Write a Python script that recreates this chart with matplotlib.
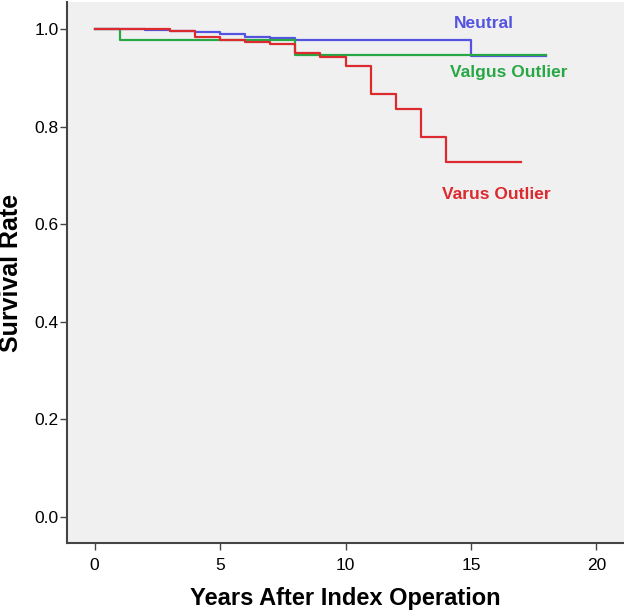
import matplotlib
matplotlib.use("Agg")
import matplotlib.pyplot as plt

plt.rcParams["font.family"] = ["Liberation Sans", "DejaVu Sans"]

# Kaplan-Meier step data (time in years, survival)
neutral_t = [0, 2, 3, 4, 5, 6, 7, 8, 15, 18]
neutral_s = [1.0, 0.998, 0.996, 0.994, 0.989, 0.984, 0.981, 0.977, 0.945, 0.945]

valgus_t = [0, 1, 8, 18]
valgus_s = [1.0, 0.977, 0.946, 0.946]

varus_t = [0, 3, 4, 5, 6, 7, 8, 9, 10, 11, 12, 13, 14, 17]
varus_s = [1.0, 0.996, 0.983, 0.977, 0.973, 0.968, 0.950, 0.943, 0.923,
           0.866, 0.836, 0.778, 0.728, 0.728]

c_neutral = "#5454e0"
c_valgus = "#28a745"
c_varus = "#dc2a2f"

fig = plt.figure(figsize=(6.24, 6.13), dpi=100)
ax = fig.add_axes([0.1074, 0.1142, 0.8926, 0.8825])
ax.set_facecolor("#f0f0f0")

ax.step(neutral_t, neutral_s, where="post", color=c_neutral, lw=1.6)
ax.step(valgus_t, valgus_s, where="post", color=c_valgus, lw=1.6)
ax.step(varus_t, varus_s, where="post", color=c_varus, lw=1.6)

ax.text(15.5, 1.01, "Neutral", color=c_neutral, fontsize=12.5, fontweight="bold",
        ha="center", va="center")
ax.text(16.5, 0.91, "Valgus Outlier", color=c_valgus, fontsize=12.5, fontweight="bold",
        ha="center", va="center")
ax.text(16.0, 0.66, "Varus Outlier", color=c_varus, fontsize=12.5, fontweight="bold",
        ha="center", va="center")

ax.set_xlim(-1.1, 21.1)
ax.set_ylim(-0.053, 1.055)
ax.set_xticks([0, 5, 10, 15, 20])
ax.set_yticks([0.0, 0.2, 0.4, 0.6, 0.8, 1.0])
ax.set_yticklabels(["0.0", "0.2", "0.4", "0.6", "0.8", "1.0"])
ax.tick_params(labelsize=12.5, length=5, width=1, color="#444444", direction="out")
ax.tick_params(axis="x", pad=5.5)
ax.tick_params(axis="y", pad=1)

for s in ["top", "right"]:
    ax.spines[s].set_visible(False)
for s in ["left", "bottom"]:
    ax.spines[s].set_color("#444444")
    ax.spines[s].set_linewidth(1.5)

ax.set_xlabel("Years After Index Operation", fontsize=17, fontweight="bold")
ax.set_ylabel("Survival Rate", fontsize=18, fontweight="bold")
ax.xaxis.set_label_coords(0.5, -0.1035)
ax.xaxis.label.set_va("center")
ax.yaxis.set_label_coords(-0.1, 0.5)
ax.yaxis.label.set_va("center")

fig.savefig("out.png", dpi=100)
